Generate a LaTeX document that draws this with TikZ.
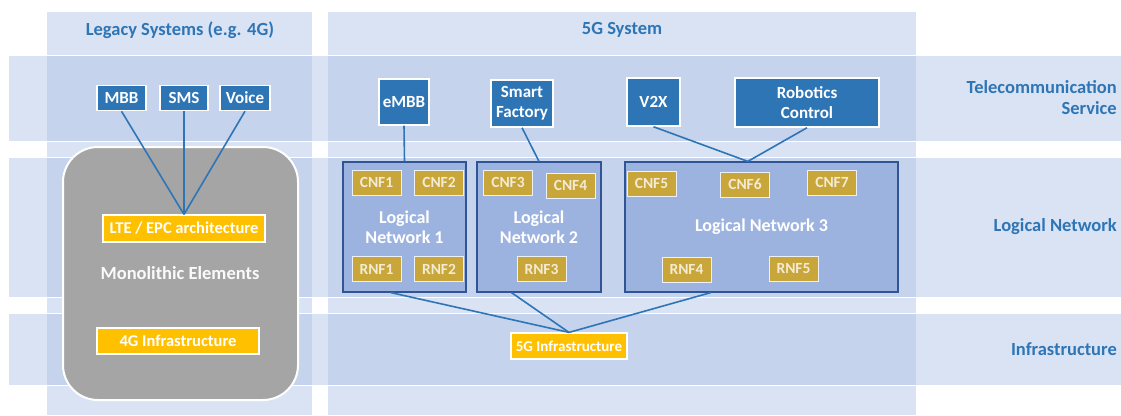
\documentclass[tikz,border=0pt]{standalone}
\usepackage{fontspec}
\setmainfont{Carlito}
\usetikzlibrary{calc}
\definecolor{bandc}{HTML}{DAE3F3}
\definecolor{overc}{HTML}{C5D3EC}
\definecolor{titc}{HTML}{2E75B6}
\definecolor{svcc}{HTML}{2E75B6}
\definecolor{lnc}{HTML}{9DB3DF}
\definecolor{lnb}{HTML}{2F5597}
\definecolor{nfc}{HTML}{C8A63A}
\definecolor{nft}{HTML}{F3EBD3}
\definecolor{infc}{HTML}{FFC000}
\definecolor{monoc}{HTML}{A5A5A5}
\tikzset{
  title/.style={text=titc, font=\fontsize{18.5}{22}\selectfont\bfseries, align=center},
  rowlabel/.style={text=titc, font=\fontsize{18.5}{21}\selectfont\bfseries, align=right, anchor=east, inner sep=0pt},
  svc/.style={fill=svcc, draw=white, line width=1.5pt, text=white, font=\fontsize{17}{20}\selectfont\bfseries, align=center, inner sep=0pt},
  lnbox/.style={fill=lnc, draw=lnb, line width=1.2pt, text=white, font=\fontsize{18}{20}\selectfont\bfseries, align=center, inner sep=0pt},
  nf/.style={fill=nfc, draw=white!80!lnc, line width=1pt, text=nft, font=\fontsize{15.5}{18}\selectfont\bfseries, minimum width=49pt, minimum height=25pt, inner sep=0pt},
  infra/.style={fill=infc, draw=white, line width=1.2pt, text=white, font=\fontsize{16.5}{19}\selectfont\bfseries, inner sep=0pt},
  conn/.style={draw=titc, line width=1.6pt},
}
\begin{document}
\begin{tikzpicture}[x=1pt,y=-1pt]
\useasboundingbox (0,0) rectangle (1121,415);
% columns
\fill[bandc] (47,12) rectangle (312,415);
\fill[bandc] (328,12) rectangle (916,415);
% rows
\foreach \a/\b in {55/141, 157/297, 313/385}{
  \fill[bandc] (9,\a) rectangle (1121,\b);
  \fill[overc] (47,\a) rectangle (312,\b);
  \fill[overc] (328,\a) rectangle (916,\b);
  \draw[white, line width=1pt] (9,\a) -- (1121,\a) (9,\b) -- (1121,\b);
}
% titles
\node[title] (t1) at (180,30) {Legacy Systems (e.g. 4G)};
\node[title] (t2) at (622,30) {5G System};
\node[rowlabel] (r1) at (1117,98) {Telecommunication\\Service};
\node[rowlabel] (r2) at (1117,227) {Logical Network};
\node[rowlabel] (r3) at (1117,349) {Infrastructure};
% monolithic
\node[fill=monoc, draw=white, line width=2pt, rounded corners=35pt, minimum width=235pt, minimum height=253pt, inner sep=0pt] (mono) at (180.5,273.5) {};
\node[text=white!95!monoc, font=\fontsize{18.5}{22}\selectfont\bfseries] (monot) at (180,273) {Monolithic Elements};
\node[infra, minimum width=162pt, minimum height=27pt] (lte) at (184,228.5) {LTE / EPC architecture};
\node[infra, minimum width=162pt, minimum height=26pt] (g4) at (178,341) {4G Infrastructure};
% legacy services
\node[svc, minimum width=49pt, minimum height=25pt] (mbb) at (121.5,98) {MBB};
\node[svc, minimum width=48pt, minimum height=25pt] (sms) at (184,98) {SMS};
\node[svc, minimum width=50pt, minimum height=25pt] (voice) at (245,98) {Voice};
\draw[conn] (mbb.south) -- (lte.north);
\draw[conn] (sms.south) -- (lte.north);
\draw[conn] (voice.south) -- (lte.north);
% 5G services
\node[svc, minimum width=50pt, minimum height=46pt] (embb) at (404,102) {eMBB};
\node[svc, minimum width=62pt, minimum height=47pt] (sf) at (522,103.5) {Smart\\Factory};
\node[svc, minimum width=53pt, minimum height=48pt] (v2x) at (653.5,102) {V2X};
\node[svc, minimum width=144pt, minimum height=49pt] (rc) at (807,102.5) {Robotics\\Control};
% logical networks
\node[lnbox, minimum width=123pt, minimum height=130pt] (ln1) at (404.5,227) {Logical\\Network 1};
\node[lnbox, minimum width=124pt, minimum height=130pt] (ln2) at (539,227) {Logical\\Network 2};
\node[lnbox, minimum width=273pt, minimum height=130pt] (ln3) at (761.5,227) {Logical Network 3};
% functions
\node[nf] (cnf1) at (376.5,182.5) {CNF1};
\node[nf] (cnf2) at (439,182.5) {CNF2};
\node[nf] (rnf1) at (376.5,269) {RNF1};
\node[nf] (rnf2) at (439,269) {RNF2};
\node[nf] (cnf3) at (508,182.5) {CNF3};
\node[nf] (cnf4) at (570.5,185.5) {CNF4};
\node[nf] (rnf3) at (541.5,269) {RNF3};
\node[nf] (cnf5) at (651.5,183.5) {CNF5};
\node[nf] (cnf6) at (745,184.5) {CNF6};
\node[nf] (cnf7) at (832,182.5) {CNF7};
\node[nf] (rnf4) at (686.5,269.5) {RNF4};
\node[nf] (rnf5) at (793.5,268.5) {RNF5};
% 5G infra
\node[infra, minimum width=116pt, minimum height=26pt, font=\fontsize{15}{18}\selectfont\bfseries] (g5) at (569,346) {5G Infrastructure};
% connectors
\coordinate (ln3top) at ($(ln3.north west)!0.45!(ln3.north east)$);
\draw[conn] (embb.south) -- (ln1.north);
\draw[conn] (sf.south) -- (ln2.north);
\draw[conn] (v2x.south) -- (ln3top);
\draw[conn] (rc.south) -- (ln3top);
\draw[conn] ($(ln1.south west)!0.39!(ln1.south east)$) -- (g5.north);
\draw[conn] ($(ln2.south west)!0.28!(ln2.south east)$) -- (g5.north);
\draw[conn] ($(ln3.south west)!0.315!(ln3.south east)$) -- (g5.north);
\end{tikzpicture}
\end{document}
